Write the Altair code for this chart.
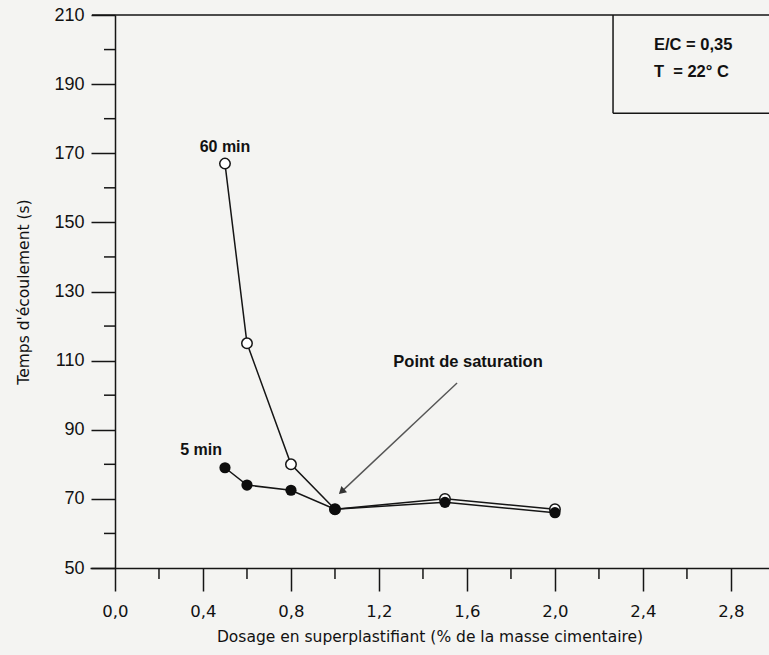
import altair as alt
import pandas as pd

# ---- data ----
dosage = [0.5, 0.6, 0.8, 1.0, 1.5, 2.0]
t60 = [167, 115, 80, 67, 70, 67]        # 60 min (open circles)
t5 = [79, 74, 72.5, 67, 69, 66]         # 5 min (filled circles)

x_major = [0.0, 0.4, 0.8, 1.2, 1.6, 2.0, 2.4, 2.8]
x_minor = [0.2, 0.6, 1.0, 1.4, 1.8, 2.2, 2.6]
y_major = [50, 70, 90, 110, 130, 150, 170, 190, 210]
y_minor = [60, 80, 100, 120, 140, 160, 180, 200]

W, H = 679, 553
XDOM = [-0.1136, 2.973]
YDOM = [50, 210]
INK = "#151515"
TXT = "#111111"
SANS = "DejaVu Sans"
ARIAL = "Liberation Sans"

xs = alt.Scale(domain=XDOM, nice=False, zero=False)
ys = alt.Scale(domain=YDOM, nice=False, zero=False)

xaxis = alt.Axis(
    values=x_major, labelExpr="replace(format(datum.value, '.1f'), '.', ',')",
    grid=False, tickSize=23, tickWidth=1.5, tickColor=INK,
    domainColor=INK, domainWidth=1.5,
    labelFont=SANS, labelFontSize=16.5, labelColor=TXT, labelPadding=12,
    title="Dosage en superplastifiant (% de la masse cimentaire)",
    titleFont=SANS, titleFontSize=15.5, titleFontWeight="normal", titleColor=TXT,
    titlePadding=10,
)
yaxis = alt.Axis(
    values=y_major, format="d", offset=-25,
    grid=False, tickSize=24, tickWidth=1.5, tickColor=INK,
    domainColor=INK, domainWidth=1.5,
    labelFont=ARIAL, labelFontSize=18, labelColor=TXT, labelPadding=7,
    title="Temps d'écoulement (s)",
    titleFont=SANS, titleFontSize=15.5, titleFontWeight="normal", titleColor=TXT,
    titlePadding=22,
)


def X(field="x"):
    return alt.X(f"{field}:Q", scale=xs, axis=xaxis)


def Y(field="y"):
    return alt.Y(f"{field}:Q", scale=ys, axis=yaxis)


df60 = pd.DataFrame({"x": dosage, "y": t60})
df5 = pd.DataFrame({"x": dosage, "y": t5})

line60 = alt.Chart(df60).mark_line(color=INK, strokeWidth=1.5).encode(x=X(), y=Y())
pts60 = alt.Chart(df60).mark_point(
    shape="circle", filled=True, fill="white", stroke=INK, strokeWidth=1.5,
    size=110, opacity=1
).encode(x=X(), y=Y())
line5 = alt.Chart(df5).mark_line(color=INK, strokeWidth=1.5).encode(x=X(), y=Y())
pts5 = alt.Chart(df5).mark_circle(color="#0d0d0d", size=125, opacity=1).encode(x=X(), y=Y())

# minor ticks
yminor = alt.Chart(pd.DataFrame({"y": y_minor})).mark_rule(color=INK, strokeWidth=1.5).encode(
    y=Y(), x=alt.value(14), x2=alt.value(25))
xminor = alt.Chart(pd.DataFrame({"x": x_minor})).mark_rule(color=INK, strokeWidth=1.5).encode(
    x=X(), y=alt.value(H), y2=alt.value(H + 11))

# top frame line at 210
topline = alt.Chart(pd.DataFrame({"y": [210]})).mark_rule(color=INK, strokeWidth=1.5).encode(
    y=Y(), x=alt.value(2), x2=alt.value(W))

# legend box (upper right)
box_x, box_y = 2.264, 181.6
boxv = alt.Chart(pd.DataFrame({"x": [box_x], "y": [box_y], "y2": [210]})).mark_rule(
    color=INK, strokeWidth=1.5).encode(x=X(), y=Y(), y2="y2:Q")
boxh = alt.Chart(pd.DataFrame({"x": [box_x], "x2": [XDOM[1]], "y": [box_y]})).mark_rule(
    color=INK, strokeWidth=1.5).encode(x=X(), x2="x2:Q", y=Y())
box_text = alt.Chart(pd.DataFrame({
    "x": [2.45, 2.45], "y": [201.3, 193.5],
    "t": ["E/C = 0,35", "T\u00a0\u00a0= 22° C"]})).mark_text(
    font=ARIAL, fontSize=16.5, fontWeight="bold", color=TXT, align="left", baseline="middle").encode(
    x=X(), y=Y(), text="t:N")

# series labels
lab60 = alt.Chart(pd.DataFrame({"x": [0.5], "y": [167], "t": ["60 min"]})).mark_text(
    font=ARIAL, fontSize=16, fontWeight="bold", color=TXT, align="center", baseline="middle", dy=-17).encode(
    x=X(), y=Y(), text="t:N")
lab5 = alt.Chart(pd.DataFrame({"x": [0.5], "y": [79], "t": ["5 min"]})).mark_text(
    font=ARIAL, fontSize=16, fontWeight="bold", color=TXT, align="right", baseline="middle", dx=-3, dy=-18).encode(
    x=X(), y=Y(), text="t:N")

# saturation annotation with arrow
sat_text = alt.Chart(pd.DataFrame({"x": [1.605], "y": [109.6], "t": ["Point de saturation"]})).mark_text(
    font=ARIAL, fontSize=16.5, fontWeight="bold", color=TXT, align="center", baseline="middle").encode(
    x=X(), y=Y(), text="t:N")
arrow_line = alt.Chart(pd.DataFrame({"x": [1.555], "y": [103.5], "x2": [1.03], "y2": [72.1]})).mark_rule(
    color="#555555", strokeWidth=1.4).encode(x=X(), y=Y(), x2="x2:Q", y2="y2:Q")
arrow_head = alt.Chart(pd.DataFrame({"x": [1.03], "y": [72.1]})).mark_point(
    shape="triangle-up", filled=True, color="#333333", size=70, angle=227, opacity=1).encode(
    x=X(), y=Y())

chart = alt.layer(
    topline, boxv, boxh, yminor, xminor,
    line60, pts60, line5, pts5,
    arrow_line, arrow_head,
    lab60, lab5, sat_text, box_text,
).properties(
    width=W, height=H,
    autosize=alt.AutoSizeParams(type="none"),
    padding={"left": 90, "top": 15, "right": 0, "bottom": 87},
    background="#f4f4f2",
).configure_view(stroke=None)

chart.save("out.html", embed_options={"renderer": "svg", "actions": False})
